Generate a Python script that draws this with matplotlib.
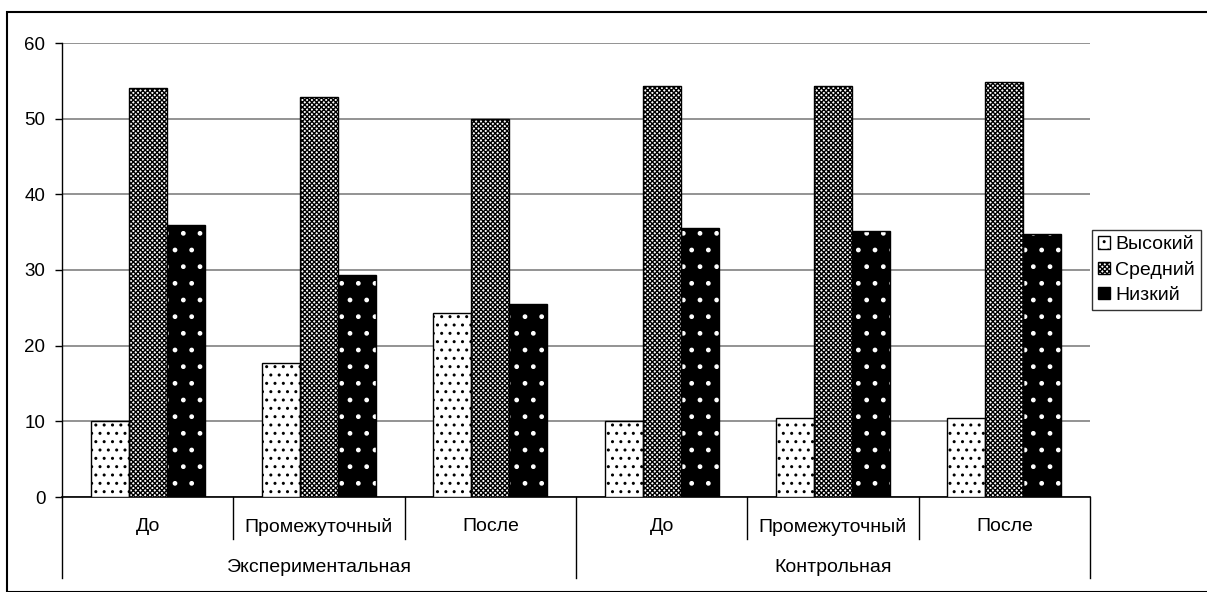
import numpy as np
import matplotlib.pyplot as plt
from matplotlib.patches import Rectangle
from matplotlib.lines import Line2D

plt.rcParams['font.family'] = ['Liberation Sans', 'DejaVu Sans']
plt.rcParams['hatch.linewidth'] = 1.0

stages = ["До", "Промежуточный", "После", "До", "Промежуточный", "После"]
groups = ["Экспериментальная", "Контрольная"]
series = ["Высокий", "Средний", "Низкий"]

high = [10, 17.7, 24.3, 10, 10.5, 10.5]
mid = [54, 52.8, 50, 54.3, 54.3, 54.9]
low = [36, 29.4, 25.5, 35.6, 35.2, 34.7]

fig = plt.figure(figsize=(12.07, 5.92), dpi=100)
ax = fig.add_axes([62/1207, 1-497/592, 1028/1207, 454/592])

x = np.arange(len(stages))
w = 0.222

# Высокий: white with black dots
ax.bar(x - w, high, w, color='white', edgecolor='black', hatch='..', linewidth=0, zorder=3)
ax.bar(x - w, high, w, fill=False, edgecolor='black', linewidth=1, zorder=4)
# Средний: checkerboard
ax.bar(x, mid, w, color='white', edgecolor='black', hatch='xxxxxxx', linewidth=0, zorder=3)
ax.bar(x, mid, w, fill=False, edgecolor='black', linewidth=1, zorder=4)
# Низкий: black with white squares
ax.bar(x + w, low, w, color='black', edgecolor='white', hatch='.', linewidth=0, zorder=3)
ax.bar(x + w, low, w, fill=False, edgecolor='black', linewidth=1, zorder=4)

ax.set_xlim(-0.5, len(stages) - 0.5)
ax.set_ylim(0, 60)
ax.set_yticks(range(0, 61, 10))
ax.yaxis.grid(True, color='#808080', linewidth=1.2)
ax.set_axisbelow(True)
for s in ['top', 'right']:
    ax.spines[s].set_visible(False)
ax.spines['left'].set_linewidth(1)
ax.spines['bottom'].set_linewidth(1.2)
ax.tick_params(axis='y', length=5, width=1, labelsize=13.5, pad=7)
ax.set_xticks([])

# multi-level category axis
for i in range(len(stages) + 1):
    depth = 0.0925 if i % 3 else 0.178
    ax.add_line(Line2D([i - 0.5, i - 0.5], [0, -depth], transform=ax.get_xaxis_transform(),
                       color='black', linewidth=1, clip_on=False))
for i, s in enumerate(stages):
    ax.text(i, -0.065, s, transform=ax.get_xaxis_transform(), ha='center', va='center', fontsize=14)
for j, g in enumerate(groups):
    ax.text(j * 3 + 1, -0.155, g, transform=ax.get_xaxis_transform(), ha='center', va='center', fontsize=14)

handles = [Rectangle((0, 0), 1, 1, facecolor='white', edgecolor='black', hatch='..'),
           Rectangle((0, 0), 1, 1, facecolor='white', edgecolor='black', hatch='xxxxxxx'),
           Rectangle((0, 0), 1, 1, facecolor='black', edgecolor='black')]
leg = fig.legend(handles, series, loc='center left', bbox_to_anchor=(1092/1207, 1-270/592),
                 frameon=True, fancybox=False, edgecolor='black', fontsize=14,
                 handlelength=0.6, handleheight=0.6, handletextpad=0.3, borderpad=0.3,
                 labelspacing=0.4, borderaxespad=0)
leg.get_frame().set_linewidth(1)

fig.patches.append(Rectangle((7/1207, 0), 1.1, 1-12/592, transform=fig.transFigure,
                             fill=False, edgecolor='black', linewidth=1.5))

fig.savefig('out.png', dpi=100)
